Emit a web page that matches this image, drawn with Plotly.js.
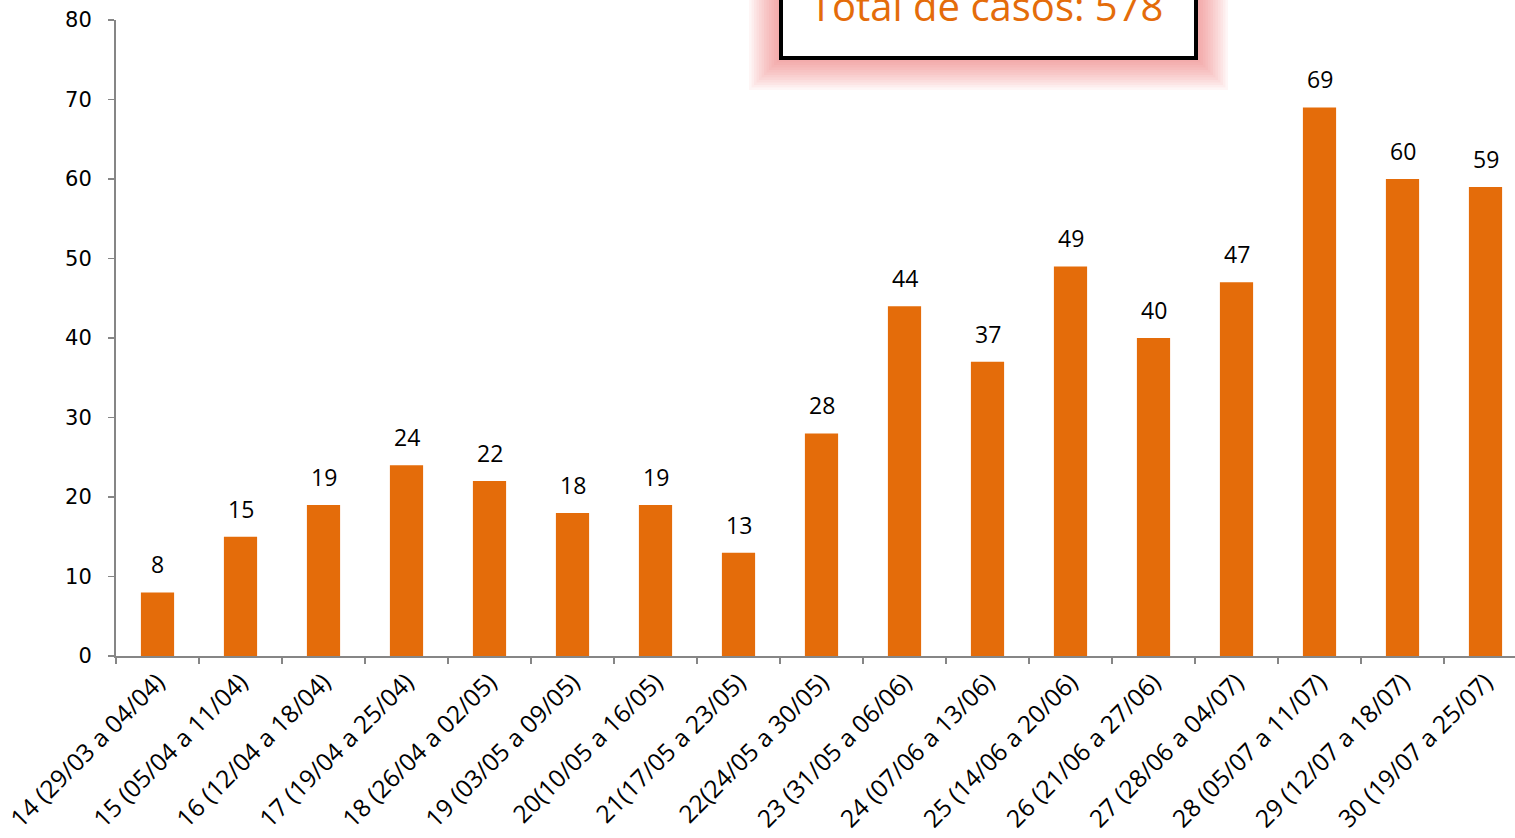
<!DOCTYPE html>
<html>
<head>
<meta charset="utf-8">
<script src="https://cdn.plot.ly/plotly-3.0.1.min.js"></script>
<style>html,body{margin:0;padding:0;background:#fff;overflow:hidden}#chart{width:1515px;height:838px}</style>
</head>
<body>
<div id="chart"></div>
<script>
const categories = [
  "14 (29/03 a 04/04)", "15 (05/04 a 11/04)", "16 (12/04 a 18/04)", "17 (19/04 a 25/04)",
  "18 (26/04 a 02/05)", "19 (03/05 a 09/05)", "20(10/05 a 16/05)", "21(17/05 a 23/05)",
  "22(24/05 a 30/05)", "23 (31/05 a 06/06)", "24 (07/06 a 13/06)", "25 (14/06 a 20/06)",
  "26 (21/06 a 27/06)", "27 (28/06 a 04/07)", "28 (05/07 a 11/07)", "29 (12/07 a 18/07)",
  "30 (19/07 a 25/07)"
];
const casos = [8, 15, 19, 24, 22, 18, 19, 13, 28, 44, 37, 49, 40, 47, 69, 60, 59];
const totalText = "Total de casos: 578";

const W = 1515, H = 838;
const L = 116, R = 0, T = 20, B = 182;
const pw = W - L - R, ph = H - T - B;
const px = v => (v - L) / pw;
const py = v => (H - B - v) / ph;

const orange = "#E46C0A";
const axisGray = "#868686";

const trace = {
  type: "bar",
  x: categories,
  y: casos,
  width: 0.4,
  marker: {color: orange},
  hoverinfo: "x+y"
};

const annotations = categories.map((c, i) => ({
  x: c, y: casos[i], xref: "x", yref: "y",
  text: String(casos[i]), showarrow: false,
  yanchor: "bottom", yshift: 10,
  font: {family: "Open Sans", size: 23, color: "#000"}
}));

annotations.push({
  xref: "paper", yref: "paper",
  x: px(986), y: py(6),
  text: totalText, showarrow: false,
  xanchor: "center", yanchor: "middle",
  font: {family: "Open Sans", size: 40, color: orange}
});

const shapes = [];
for (let i = 12; i >= 1; i--) {
  const d = i * 2.5;
  shapes.push({
    type: "rect", xref: "paper", yref: "paper", layer: "above",
    x0: px(779 - d), x1: px(1198 + d), y0: py(60 + d), y1: py(-60),
    line: {width: 0}, fillcolor: "rgba(236,110,110,0.06)"
  });
}
shapes.push({
  type: "rect", xref: "paper", yref: "paper", layer: "above",
  x0: px(781), x1: px(1196), y0: py(58), y1: py(-60),
  line: {width: 4, color: "#000"}, fillcolor: "#fff"
});

const layout = {
  width: W, height: H,
  margin: {l: L, r: R, t: T, b: B, pad: 0},
  paper_bgcolor: "#fff", plot_bgcolor: "#fff",
  showlegend: false,
  font: {family: "Open Sans", color: "#000"},
  xaxis: {
    type: "category",
    range: [-0.5, -0.5 + pw / 83],
    tickangle: -45,
    tickson: "boundaries",
    ticks: "outside", ticklen: 6, tickcolor: axisGray, tickwidth: 1.5,
    showline: true, linecolor: axisGray, linewidth: 2,
    showgrid: false, zeroline: false,
    tickfont: {family: "Open Sans", size: 24.5, color: "#000"}
  },
  yaxis: {
    range: [0, 80], dtick: 10, tick0: 0,
    ticks: "outside", ticklen: 6, tickcolor: axisGray, tickwidth: 1.5,
    showline: true, linecolor: axisGray, linewidth: 2,
    showgrid: false, zeroline: false,
    ticklabelstandoff: 12,
    tickfont: {family: "DejaVu Sans", size: 21, color: "#000"}
  },
  annotations: annotations,
  shapes: shapes
};

Plotly.newPlot("chart", [trace], layout, {displayModeBar: false, staticPlot: true});
</script>
</body>
</html>
